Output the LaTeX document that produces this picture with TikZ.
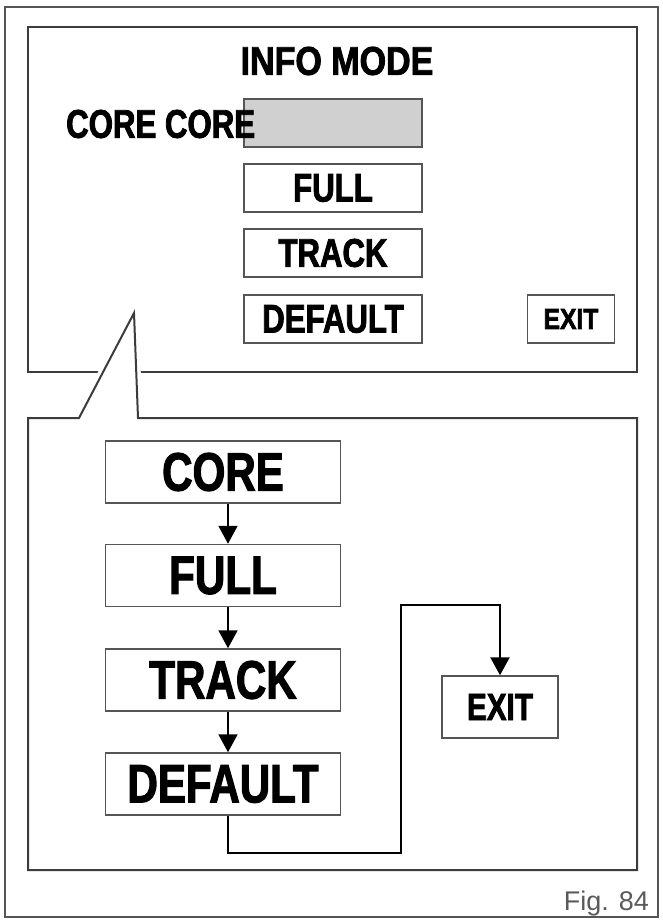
\documentclass[tikz,border=0pt]{standalone}
\usepackage{fontspec}
\setmainfont{Liberation Sans}
\newfontfamily\condfont{Liberation Sans}[FakeStretch=0.78,FakeBold=2]
\newfontfamily\headfont{Liberation Sans}[FakeStretch=0.85,FakeBold=2]
\usetikzlibrary{positioning,calc,arrows.meta}

\definecolor{framegray}{HTML}{3C3C3C}
\definecolor{boxgray}{HTML}{555555}
\definecolor{selgray}{HTML}{D0D0D0}
\definecolor{figgray}{HTML}{5A5A5A}

\begin{document}
\begin{tikzpicture}[x=1pt,y=-1pt,
	panel/.style={draw=framegray,line width=2pt},
	menubox/.style={draw=boxgray,line width=1.5pt,minimum width=178pt,minimum height=48pt,inner sep=0pt,font=\condfont\bfseries\fontsize{40}{41}\selectfont},
	flowbox/.style={draw=boxgray,line width=1.5pt,minimum width=235pt,minimum height=62pt,inner sep=0pt,font=\condfont\bfseries\fontsize{54}{55}\selectfont},
	flow/.style={draw=black,line width=2pt,-{Triangle[length=18pt,width=19pt]}}]
	\useasboundingbox (0,0) rectangle (662,920);
	% outer frame
	\draw[draw=boxgray,line width=1.5pt] (5,7) rectangle (658,917);
	% screen
	\draw[panel] (28,27) rectangle (637,372);
	\node[font=\headfont\bfseries\fontsize{40}{41}\selectfont] (title) at (337,61) {INFO MODE};
	\node[menubox,fill=selgray] (sel) at (333,123) {};
	\node[anchor=west,inner sep=0pt,font=\condfont\bfseries\fontsize{40}{41}\selectfont] (corelbl) at (66,124) {CORE CORE};
	\node[menubox] (full) at (333,188) {FULL};
	\node[menubox] (track) at (333,253) {TRACK};
	\node[menubox] (dflt) at (333,319) {DEFAULT};
	\node[menubox,minimum width=87pt,font=\headfont\bfseries\fontsize{29}{30}\selectfont] (exit) at (571,319) {EXIT};
	% callout
	\draw[panel,fill=white,preaction={draw=white,line width=9pt}]
		(28,418) -- (79,418) -- (134,313) -- (138,418) -- (637,418) -- (637,870) -- (28,870) -- cycle;
	% sequence
	\node[flowbox] (coreB) at (223,472) {CORE};
	\node[flowbox] (fullB) at (223,575.5) {FULL};
	\node[flowbox] (trackB) at (223,680) {TRACK};
	\node[flowbox] (dfltB) at (223,784) {DEFAULT};
	\node[flowbox,minimum width=116pt,font=\condfont\bfseries\fontsize{38}{39}\selectfont] (exitB) at (500,707) {EXIT};
	\draw[flow] ([xshift=5pt]coreB.south) -- ([xshift=5pt]fullB.north);
	\draw[flow] ([xshift=5pt]fullB.south) -- ([xshift=5pt]trackB.north);
	\draw[flow] ([xshift=5pt]trackB.south) -- ([xshift=5pt]dfltB.north);
	\coordinate (turnA) at (401,853);
	\coordinate (turnB) at (401,605);
	\draw[flow,line width=2.5pt] ([xshift=5pt]dfltB.south) |- (turnA) -- (turnB) -| (exitB.north);
	\node[anchor=base east,inner sep=0pt,text=figgray,font=\fontsize{27}{28}\selectfont] (fig) at (649,910) {Fig. 84};
\end{tikzpicture}
\end{document}
